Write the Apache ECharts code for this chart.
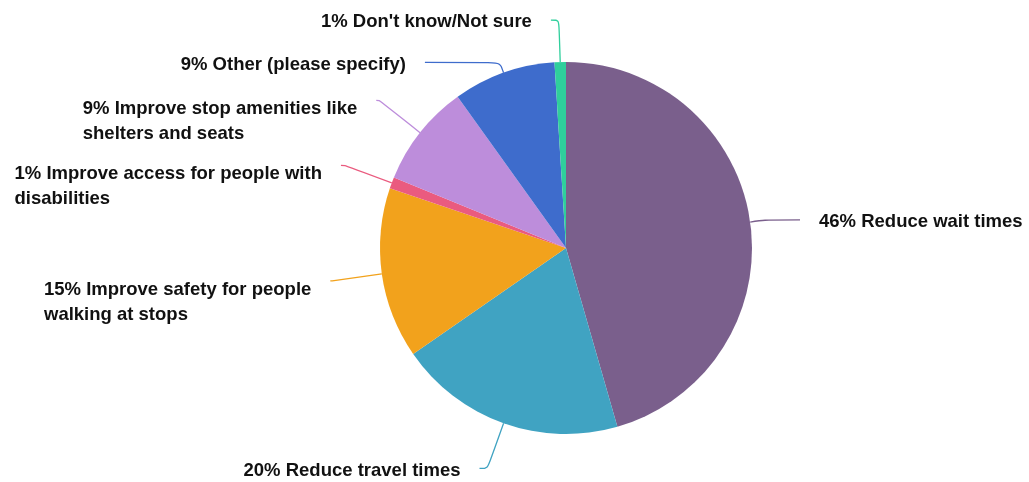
<!DOCTYPE html>
<html>
<head>
<meta charset="utf-8">
<script src="https://cdn.jsdelivr.net/npm/echarts@6/dist/echarts.min.js"></script>
<style>
html,body{margin:0;padding:0;background:#fff;}
#chart{width:1029px;height:482px;}
</style>
</head>
<body>
<div id="chart"></div>
<script>
const categories = [
  "Reduce wait times",
  "Reduce travel times",
  "Improve safety for people\nwalking at stops",
  "Improve access for people with\ndisabilities",
  "Improve stop amenities like\nshelters and seats",
  "Other (please specify)",
  "Don't know/Not sure"
];
const percents = [46, 20, 15, 1, 9, 9, 1];
const colors = ["#7a5f8c", "#40a3c2", "#f2a21c", "#ea5b7f", "#bd8ddb", "#3e6ccc", "#2fcf9c"];

// label line styling per slice: [length, length2]
const lineStyleCfg = [[15, 35], [48, 8], [50, 2], [50, 4], [52, 3], [11, 75], [42, 8]];
const LINE_H = 25;

const chart = echarts.init(document.getElementById('chart'));
chart.setOption({
  animation: false,
  series: [{
    type: 'pie',
    center: [566, 248],
    radius: 186,
    startAngle: 90,
    clockwise: true,
    avoidLabelOverlap: false,
    labelLayout: { hideOverlap: false },
    data: categories.map((c, i) => {
      const nLines = c.split('\n').length;
      return {
        name: c,
        value: percents[i],
        itemStyle: { color: colors[i] },
        label: { padding: [(LINE_H + 13) * (nLines - 1) + 4, 0, 0, 0] },
        labelLine: {
          length: lineStyleCfg[i][0],
          length2: lineStyleCfg[i][1],
          lineStyle: { color: colors[i] }
        }
      };
    }),
    itemStyle: { borderWidth: 0 },
    label: {
      formatter: p => {
        const lines = (percents[p.dataIndex] + '% ' + p.name).split('\n');
        return lines.map(l => '{t|' + l + '}').join('\n');
      },
      color: '#111',
      fontFamily: 'Liberation Sans, Arial, sans-serif',
      fontWeight: 'bold',
      fontSize: 18.5,
      lineHeight: LINE_H,
      distanceToLabelLine: 19,
      rich: {
        t: {
          align: 'left',
          color: '#111',
          fontFamily: 'Liberation Sans, Arial, sans-serif',
          fontWeight: 'bold',
          fontSize: 18.5,
          lineHeight: LINE_H
        }
      }
    },
    labelLine: { smooth: 0.3, lineStyle: { width: 1.3 } },
    emphasis: { disabled: true }
  }]
});
</script>
</body>
</html>
